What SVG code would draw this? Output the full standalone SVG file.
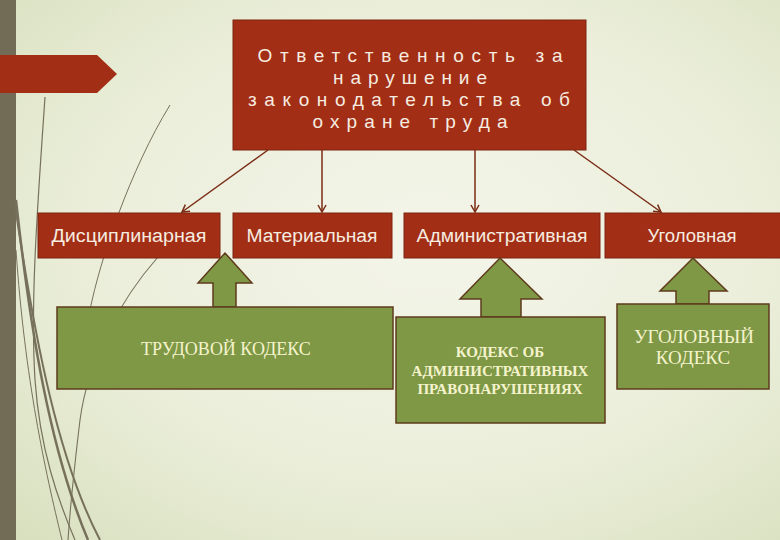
<svg xmlns="http://www.w3.org/2000/svg" width="780" height="540" viewBox="0 0 780 540">
<defs>
<radialGradient id="bg" cx="0.55" cy="0.45" r="0.75">
<stop offset="0" stop-color="#f4f5ea"/>
<stop offset="0.6" stop-color="#eaeed9"/>
<stop offset="1" stop-color="#d9e0bf"/>
</radialGradient>
<marker id="ah" markerWidth="10" markerHeight="10" refX="8" refY="5" orient="auto" markerUnits="userSpaceOnUse">
<path d="M1,1 L8,5 L1,9" fill="none" stroke="#7b2c16" stroke-width="1.5"/>
</marker>
<style>
.red{fill:#a22e15;stroke:#7e2410;stroke-width:1}
.grn{fill:#7e9846;stroke:#5e3b1c;stroke-width:1.5}
.rt{font-family:"Liberation Sans","DejaVu Sans",sans-serif;fill:#f6ece0;text-anchor:middle}
.gt{font-family:"Liberation Serif","DejaVu Serif",serif;fill:#f5f3cc;text-anchor:middle}
.con{stroke:#7b2c16;stroke-width:1.5;fill:none}
.deco{fill:none;stroke:#77715b}
</style>
</defs>
<rect width="780" height="540" fill="url(#bg)"/>
<rect x="0" y="0" width="16" height="540" fill="#726b55"/>
<g id="decor">
<path class="deco" d="M170,105 C130,170 100,260 90,310" stroke="#c0c0ac" stroke-width="1"/>
<path class="deco" d="M16,250 C25,380 45,470 62,540" stroke="#a9a690" stroke-width="1"/>
<path class="deco" d="M45,97 C38,200 30,300 35,380 C40,450 58,500 75,540" stroke-width="1.2"/>
<path class="deco" d="M16,200 C30,330 50,450 88,540" stroke-width="2.5"/>
<path class="deco" d="M16,212 C35,340 58,460 100,540" stroke-width="2"/>
<path class="deco" d="M158,257 C120,300 88,360 80,420 C74,470 70,510 68,540" stroke-width="1.1"/>
</g>
<polygon id="tab" points="0,55 97,55 117,74 97,93 0,93" fill="#a22e15"/>
<g id="connectors">
<line class="con" x1="268" y1="150" x2="182" y2="212" marker-end="url(#ah)"/>
<line class="con" x1="322" y1="150" x2="322" y2="212" marker-end="url(#ah)"/>
<line class="con" x1="475" y1="150" x2="475" y2="212" marker-end="url(#ah)"/>
<line class="con" x1="574" y1="150" x2="661" y2="212" marker-end="url(#ah)"/>
</g>
<g id="top">
<rect class="red" x="233" y="20" width="353" height="130"/>
<text class="rt" font-size="19"><tspan x="410" y="62" textLength="305" lengthAdjust="spacing">Ответственность за</tspan><tspan x="410" y="84" textLength="154" lengthAdjust="spacing">нарушение</tspan><tspan x="409" y="106" textLength="322" lengthAdjust="spacing">законодательства об</tspan><tspan x="410" y="128" textLength="195" lengthAdjust="spacing">охране труда</tspan></text>
</g>
<g id="disc">
<rect class="red" x="38" y="213" width="182" height="45"/>
<text class="rt" font-size="18" x="129" y="242" textLength="155" lengthAdjust="spacingAndGlyphs">Дисциплинарная</text>
</g>
<g id="mat">
<rect class="red" x="233" y="213" width="159" height="45"/>
<text class="rt" font-size="18" x="312" y="242" textLength="131" lengthAdjust="spacingAndGlyphs">Материальная</text>
</g>
<g id="adm">
<rect class="red" x="404" y="213" width="196" height="45"/>
<text class="rt" font-size="18" x="502" y="242" textLength="171" lengthAdjust="spacingAndGlyphs">Административная</text>
</g>
<g id="ugol">
<rect class="red" x="605" y="213" width="180" height="45"/>
<text class="rt" font-size="18" x="692" y="242" textLength="89" lengthAdjust="spacingAndGlyphs">Уголовная</text>
</g>
<g id="trud">
<polygon class="grn" points="213,307 213,283 198,283 225,253 252,283 236,283 236,307"/>
<rect class="grn" x="57" y="307" width="336" height="82"/>
<text class="gt" font-size="18" x="226" y="355">ТРУДОВОЙ КОДЕКС</text>
</g>
<g id="koap">
<polygon class="grn" points="481,317 481,299 460,299 500,258 542,299 521,299 521,317"/>
<rect class="grn" x="396" y="317" width="209" height="106"/>
<text class="gt" font-size="15" font-weight="bold"><tspan x="500" y="357">КОДЕКС ОБ</tspan><tspan x="500" y="376">АДМИНИСТРАТИВНЫХ</tspan><tspan x="500" y="394">ПРАВОНАРУШЕНИЯХ</tspan></text>
</g>
<g id="uk">
<polygon class="grn" points="676,304 676,291 660,291 693,258 727,291 709,291 709,304"/>
<rect class="grn" x="617" y="304" width="152" height="85"/>
<text class="gt" font-size="19"><tspan x="694" y="343">УГОЛОВНЫЙ</tspan><tspan x="693" y="364">КОДЕКС</tspan></text>
</g>
</svg>
